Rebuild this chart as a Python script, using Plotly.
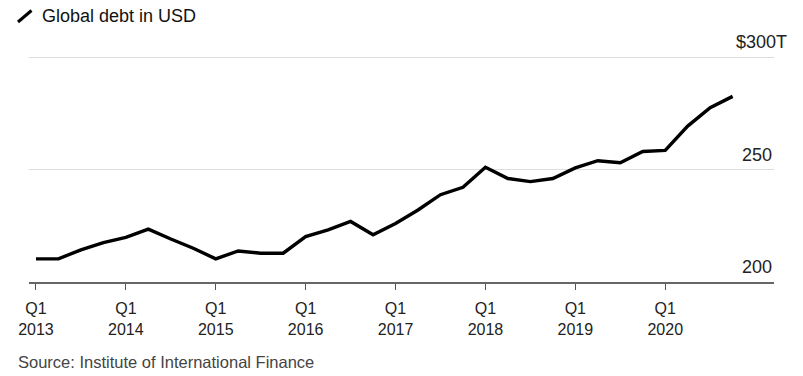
import plotly.graph_objects as go

quarters = [f"Q{q} {y}" for y in range(2013, 2021) for q in range(1, 5)]
debt = [210.3, 210.3, 214.3, 217.5, 219.8, 223.5, 219.1, 215.0,
        210.3, 213.8, 212.8, 212.8, 220.2, 223.2, 226.9, 221.0,
        226.0, 232.0, 238.8, 242.1, 251.0, 246.0, 244.6, 246.0,
        250.7, 253.9, 253.0, 258.0, 258.5, 269.3, 277.5, 282.5]
tick_idx = [0, 4, 8, 12, 16, 20, 24, 28]
tick_text = ["Q1<br>2013", "Q1<br>2014", "Q1<br>2015", "Q1<br>2016",
             "Q1<br>2017", "Q1<br>2018", "Q1<br>2019", "Q1<br>2020"]
y_ticks = [200, 250, 300]
y_labels = ["200", "250", "$300T"]

W, H = 803, 376
L, R, T, B = 29, 29, 53, 94
PW, PH = W - L - R, H - T - B
FONT = "Liberation Sans, Arial, sans-serif"


def px(fx):
    return (fx - L) / PW


def py(fy):
    return (H - B - fy) / PH


fig = go.Figure()
fig.add_trace(go.Scatter(
    x=list(range(len(debt))), y=debt, mode="lines",
    line=dict(color="#000000", width=3.4), hoverinfo="skip",
    text=quarters,
))

annotations = []
for v, lab in zip(y_ticks, y_labels):
    annotations.append(dict(
        x=1, xref="paper", y=v, yref="y", text=lab, showarrow=False,
        xanchor="right", yanchor="bottom", yshift=3,
        xshift=15 if lab.endswith("T") else 0,
        font=dict(family=FONT, size=18, color="#222222"),
    ))
annotations.append(dict(
    x=px(40), xref="paper", y=py(15.5), yref="paper",
    text="Global debt in USD", showarrow=False, xanchor="left", yanchor="middle",
    font=dict(family=FONT, size=18, color="#111111"),
))
annotations.append(dict(
    x=px(16), xref="paper", y=py(362), yref="paper",
    text="Source: Institute of International Finance", showarrow=False,
    xanchor="left", yanchor="middle",
    font=dict(family=FONT, size=16.5, color="#444444"),
))

shapes = [dict(
    type="line", xref="paper", yref="paper",
    x0=px(18), y0=py(22), x1=px(31.5), y1=py(10.5),
    line=dict(color="#000000", width=3),
)]

fig.update_layout(
    width=W, height=H, margin=dict(l=L, r=R, t=T, b=B),
    paper_bgcolor="white", plot_bgcolor="white", showlegend=False,
    font=dict(family=FONT, size=16, color="#222222"),
    annotations=annotations, shapes=shapes,
    xaxis=dict(
        range=[-0.31, 32.84], tickvals=tick_idx, ticktext=tick_text,
        showgrid=False, zeroline=False, showline=True, linecolor="#666666",
        linewidth=2, ticks="outside", ticklen=6, tickcolor="#555555",
        ticklabelstandoff=5,
        tickfont=dict(family=FONT, size=16, color="#222222"),
    ),
    yaxis=dict(
        range=[200, 200 + PH / 2.25], tickvals=y_ticks, showticklabels=False,
        showgrid=True, gridcolor="#dddddd", gridwidth=1, zeroline=False,
    ),
)

fig.write_html("out.html", config={"displayModeBar": False},
               post_script="document.body.style.margin='0';")
